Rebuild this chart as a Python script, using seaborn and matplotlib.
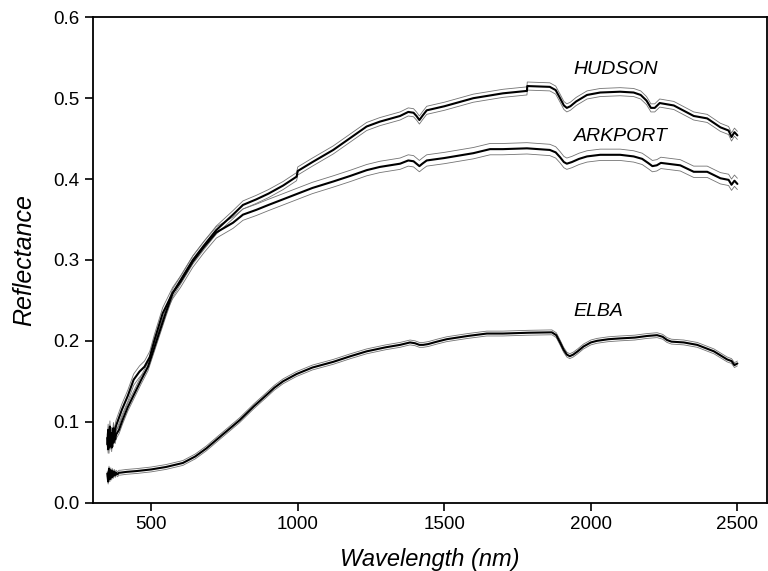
import numpy as np
import pandas as pd
import matplotlib
matplotlib.use("Agg")
import matplotlib.pyplot as plt
import seaborn as sns

# ---- data ----
hud_wl = [350, 353, 356, 359, 362, 365, 368, 371, 374, 377, 380, 390, 402, 420, 443, 466, 489,
          519, 549, 573, 600, 642, 680, 722, 779, 813, 859, 900, 950, 996, 1000, 1050, 1121,
          1180, 1235, 1280, 1349, 1377, 1395, 1405, 1415, 1425, 1440, 1500, 1599, 1700, 1782,
          1783, 1860, 1880, 1895, 1908, 1918, 1930, 1950, 1987, 2032, 2100, 2146, 2170, 2190,
          2205, 2218, 2235, 2283, 2351, 2397, 2442, 2470, 2480, 2490, 2500]
hud_r = [0.080, 0.066, 0.088, 0.070, 0.084, 0.068, 0.082, 0.074, 0.086, 0.078, 0.084, 0.090,
         0.102, 0.118, 0.135, 0.152, 0.168, 0.201, 0.234, 0.259, 0.275, 0.300, 0.318, 0.337,
         0.356, 0.368, 0.375, 0.382, 0.392, 0.403, 0.410, 0.421, 0.436, 0.451, 0.465, 0.471,
         0.478, 0.483, 0.482, 0.478, 0.473, 0.478, 0.485, 0.490, 0.500, 0.506, 0.509, 0.515,
         0.514, 0.510, 0.500, 0.491, 0.488, 0.490, 0.496, 0.504, 0.507, 0.508, 0.507, 0.504,
         0.497, 0.488, 0.488, 0.494, 0.491, 0.478, 0.475, 0.464, 0.460, 0.452, 0.458, 0.454]

ark_wl = [350, 353, 356, 359, 362, 365, 368, 371, 374, 377, 380, 400, 420, 440, 460, 477, 495,
          511, 539, 573, 600, 642, 680, 722, 779, 813, 859, 900, 950, 1007, 1050, 1121, 1180,
          1235, 1280, 1349, 1377, 1395, 1405, 1415, 1425, 1440, 1500, 1599, 1656, 1700, 1782,
          1860, 1880, 1895, 1908, 1918, 1935, 1960, 1987, 2032, 2100, 2146, 2175, 2195, 2210,
          2225, 2239, 2305, 2351, 2397, 2442, 2470, 2480, 2490, 2500]
ark_r = [0.072, 0.090, 0.068, 0.094, 0.074, 0.086, 0.078, 0.092, 0.082, 0.090, 0.095, 0.115,
         0.132, 0.152, 0.162, 0.168, 0.180, 0.201, 0.234, 0.259, 0.273, 0.298, 0.316, 0.334,
         0.346, 0.356, 0.362, 0.368, 0.375, 0.383, 0.389, 0.397, 0.404, 0.411, 0.415, 0.419,
         0.423, 0.422, 0.419, 0.416, 0.419, 0.423, 0.426, 0.432, 0.437, 0.437, 0.438, 0.436,
         0.433, 0.427, 0.421, 0.419, 0.421, 0.425, 0.428, 0.430, 0.430, 0.428, 0.425, 0.420,
         0.416, 0.417, 0.420, 0.417, 0.409, 0.409, 0.401, 0.399, 0.393, 0.398, 0.394]

elb_wl = [350, 353, 356, 359, 362, 365, 368, 371, 374, 377, 380, 385, 390, 395, 416, 450, 500,
          550, 608, 650, 688, 740, 802, 850, 893, 920, 950, 996, 1050, 1121, 1180, 1235, 1300,
          1349, 1383, 1400, 1415, 1428, 1445, 1475, 1508, 1580, 1645, 1700, 1787, 1867, 1882,
          1895, 1907, 1918, 1928, 1940, 1955, 1975, 2000, 2021, 2060, 2100, 2150, 2192, 2226,
          2245, 2260, 2275, 2317, 2363, 2420, 2465, 2480, 2490, 2500]
elb_r = [0.036, 0.026, 0.042, 0.029, 0.040, 0.031, 0.039, 0.033, 0.038, 0.034, 0.037, 0.035,
         0.037, 0.037, 0.038, 0.039, 0.041, 0.044, 0.049, 0.057, 0.067, 0.083, 0.102, 0.119,
         0.133, 0.142, 0.150, 0.159, 0.167, 0.174, 0.181, 0.187, 0.192, 0.195, 0.198, 0.197,
         0.195, 0.195, 0.196, 0.199, 0.202, 0.206, 0.209, 0.209, 0.210, 0.2105, 0.207, 0.198,
         0.189, 0.183, 0.181, 0.183, 0.187, 0.193, 0.198, 0.200, 0.202, 0.203, 0.204, 0.206,
         0.207, 0.205, 0.201, 0.199, 0.198, 0.195, 0.187, 0.177, 0.175, 0.170, 0.172]

soil_names = ["HUDSON", "ARKPORT", "ELBA"]
soil_sd = [0.005, 0.007, 0.003]
label_pos = [(1941, 0.536), (1941, 0.453), (1941, 0.236)]

x_ticks = [500, 1000, 1500, 2000, 2500]
y_ticks = [0.0, 0.1, 0.2, 0.3, 0.4, 0.5, 0.6]

# ---- build tidy table ----
frames = []
for name, wl, r, sd in zip(soil_names, [hud_wl, ark_wl, elb_wl], [hud_r, ark_r, elb_r], soil_sd):
    wl = np.asarray(wl, float)
    r = np.asarray(r, float)
    for band, vals in (("mean", r), ("upper", r + sd), ("lower", r - sd)):
        frames.append(pd.DataFrame({"wl": wl, "r": vals, "soil": name, "band": band}))
df = pd.concat(frames, ignore_index=True)
df["unit"] = df["soil"] + "_" + df["band"]

sns.set_style("ticks")
plt.rcParams["font.family"] = ["Liberation Sans", "DejaVu Sans"]
plt.rcParams["text.color"] = "black"
plt.rcParams["axes.labelcolor"] = "black"

fig = plt.figure(figsize=(7.68, 5.71), dpi=100)
ax = fig.add_axes([0.1206, 0.1198, 0.8777, 0.8499])

sd_df = df[df["band"] != "mean"]
sns.lineplot(data=sd_df, x="wl", y="r", units="unit", estimator=None, sort=False,
             color="0.45", linewidth=0.6, ax=ax)
mean_df = df[df["band"] == "mean"]
sns.lineplot(data=mean_df, x="wl", y="r", units="unit", estimator=None, sort=False,
             color="black", linewidth=1.5, ax=ax)

for name, (tx, ty) in zip(soil_names, label_pos):
    ax.text(tx, ty, name, fontsize=14, fontstyle="italic", ha="left", va="center", color="black")

ax.set_xlim(300, 2600)
ax.set_ylim(0, 0.6)
ax.set_xticks(x_ticks)
ax.set_yticks(y_ticks)
ax.set_yticklabels([f"{v:.1f}" for v in y_ticks])
ax.tick_params(direction="out", length=6, width=1.2, labelsize=13.5, colors="black")
for s in ax.spines.values():
    s.set_linewidth(1.3)
    s.set_color("black")
    s.set_visible(True)

ax.set_xlabel("Wavelength (nm)", fontsize=17, fontstyle="italic", color="black")
ax.set_ylabel("Reflectance", fontsize=18, fontstyle="italic", color="black")
ax.xaxis.set_label_coords(0.5, -0.093)
ax.yaxis.set_label_coords(-0.083, 0.5)

fig.savefig("out.png", dpi=100)
